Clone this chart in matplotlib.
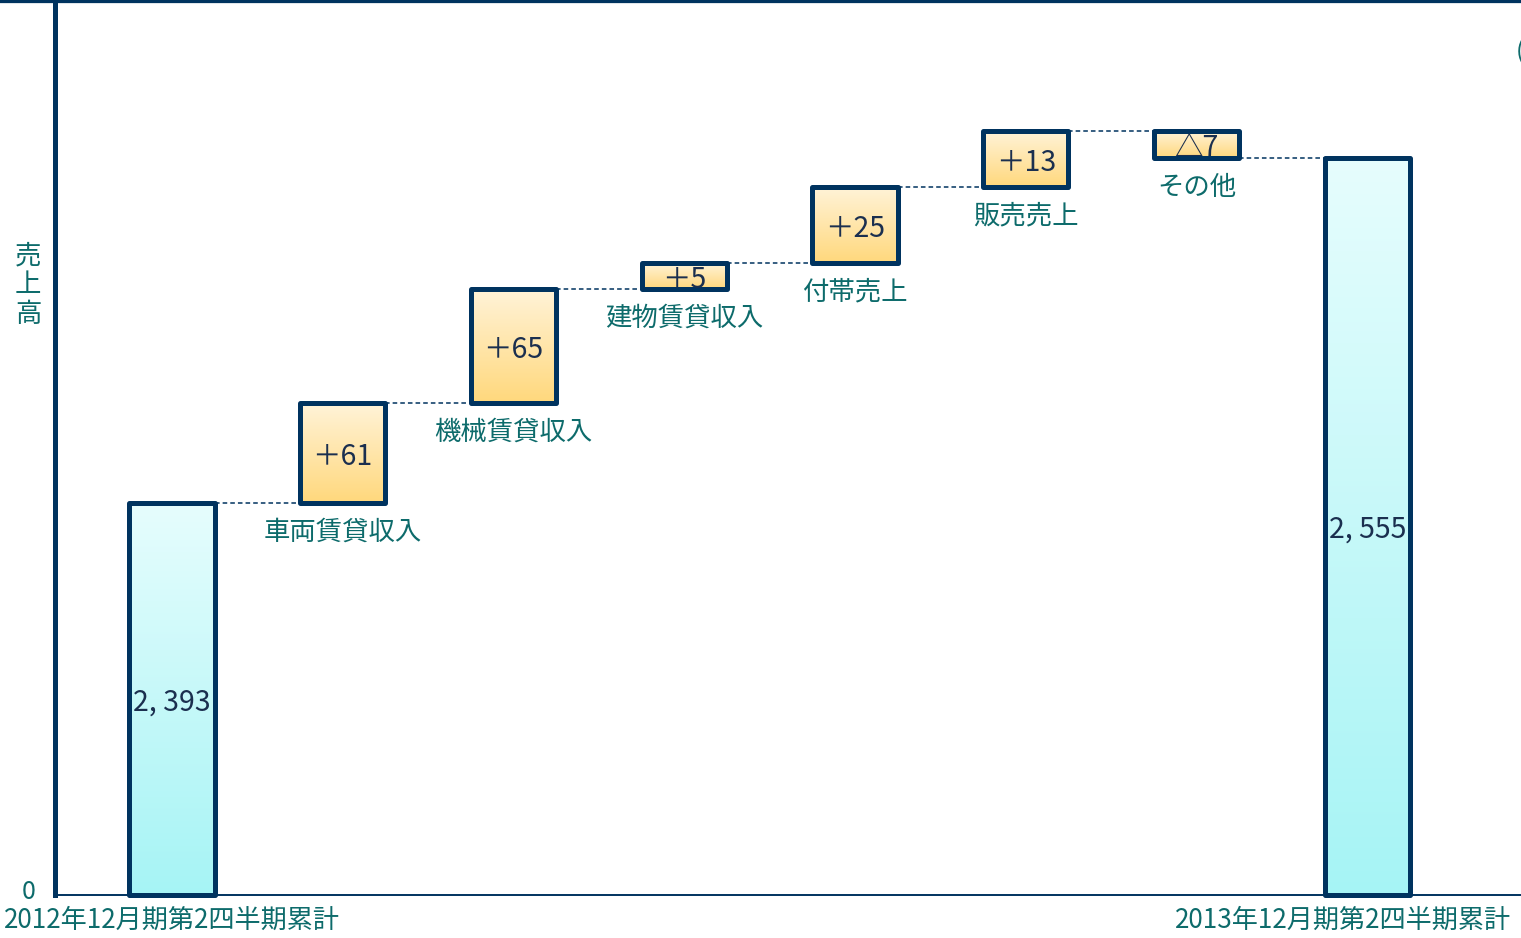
import matplotlib
matplotlib.use("Agg")
import matplotlib.pyplot as plt
from matplotlib.lines import Line2D
from matplotlib.transforms import ScaledTranslation
import numpy as np

plt.rcParams['font.family'] = ['Noto Sans CJK JP', 'DejaVu Sans']

# data (百万円)
start_label = '2012年12月期第2四半期累計'
end_label = '2013年12月期第2四半期累計'
start_value = 2393
end_value = 2555
step_names = ['車両賃貸収入', '機械賃貸収入', '建物賃貸収入', '付帯売上', '販売売上', 'その他']
step_values = [61, 65, 5, 25, 13, -7]

NAVY = '#00335f'
TEAL = '#0d6b6b'
VAL_TXT = '#1b2f4f'

# cumulative levels
levels = start_value + np.concatenate([[0], np.cumsum(step_values)])

# the original chart is not to scale: piecewise axis (value -> pixel height)
knot_vals = np.array([0, 2393, 2454, 2519, 2524, 2549, 2555, 2562, 2600], float)
knot_px = np.array([0, 392, 492, 606, 632, 708, 737, 764, 895], float)


def fwd(v):
    return np.interp(v, knot_vals, knot_px)


def inv(p):
    return np.interp(p, knot_px, knot_vals)


fig = plt.figure(figsize=(15.21, 9.38), dpi=100)
ax = fig.add_axes([55 / 1521, 43 / 938, 1 - 55 / 1521, 895 / 938])
ax.set_yscale('function', functions=(fwd, inv))
ax.set_ylim(0, 2600)
ax.set_xlim(-0.685, 7.9)

n = len(step_values)
xs = np.arange(n + 2)
w = 0.5

bottoms = [0]
heights = [start_value]
kinds = ['total']
for i, d in enumerate(step_values):
    lo, hi = sorted([levels[i], levels[i + 1]])
    bottoms.append(lo)
    heights.append(hi - lo)
    kinds.append('step')
bottoms.append(0)
heights.append(end_value)
kinds.append('total')

grad = np.linspace(0, 1, 256).reshape(-1, 1)
cmap_total = matplotlib.colors.LinearSegmentedColormap.from_list('t', ['#a6f4f5', '#e6fdfd'])
cmap_step = matplotlib.colors.LinearSegmentedColormap.from_list('s', ['#ffd87c', '#fff3d8'])

bars = ax.bar(xs, heights, bottom=bottoms, width=w, facecolor='none',
              edgecolor=NAVY, linewidth=3.6, zorder=4, clip_on=False)
to_ax = ax.transAxes.inverted()
for b, x, lo, h, k in zip(bars, xs, bottoms, heights, kinds):
    b.set_joinstyle('round')
    (x0, y0), (x1, y1) = to_ax.transform(ax.transData.transform([[x - w / 2, lo], [x + w / 2, lo + h]]))
    im = ax.imshow(grad, cmap=cmap_total if k == 'total' else cmap_step, origin='lower',
                   extent=[x0, x1, y0, y1], transform=ax.transAxes, aspect='auto', zorder=3)
    im.set_clip_path(b)

# connectors
for i in range(n + 1):
    ax.plot([xs[i] + w / 2, xs[i + 1] - w / 2], [levels[i]] * 2,
            ls=(0, (3, 2)), lw=1.1, color=NAVY, zorder=2)

# value labels
for i, (x, lo, h, k) in enumerate(zip(xs, bottoms, heights, kinds)):
    if k == 'total':
        txt = f'{int(h):,}'.replace(',', ', ')
    else:
        d = step_values[i - 1]
        txt = f'＋{d}' if d > 0 else f'△{-d}'
    ymid = inv((fwd(lo) + fwd(lo + h)) / 2)
    ax.text(x, ymid, txt, ha='center', va='center_baseline', fontsize=20.5, color=VAL_TXT, zorder=5)

# category labels
for i, name in enumerate(step_names):
    ax.annotate(name, (xs[i + 1], bottoms[i + 1]), xytext=(0, -21), textcoords='offset points',
                ha='center', va='center', fontsize=19, color=TEAL)

# axes styling
for s in ['top', 'right']:
    ax.spines[s].set_visible(False)
ax.spines['left'].set_linewidth(3.6)
ax.spines['left'].set_color(NAVY)
ax.spines['bottom'].set_linewidth(1.4)
ax.spines['bottom'].set_color(NAVY)
ax.set_xticks([])
ax.set_yticks([0])
ax.set_yticklabels(['0'], fontsize=18, color=TEAL)
ax.tick_params(axis='y', length=0, pad=14)
for lab in ax.get_yticklabels():
    lab.set_transform(lab.get_transform() + ScaledTranslation(0, 0.06, fig.dpi_scale_trans))

ax.annotate(start_label, (xs[0], 0), xytext=(0, -18), textcoords='offset points',
            ha='center', va='center', fontsize=18.8, color=TEAL, annotation_clip=False)
fig.text(1511 / 1521, 1 - 920 / 938, end_label, ha='right', va='center', fontsize=18.8, color=TEAL)

fig.text(28 / 1521, 1 - 285 / 938, '売\n上\n高', ha='center', va='center', fontsize=19,
         color=TEAL, linespacing=1.1)
fig.text(1516 / 1521, 1 - 52 / 938, '(百万円)', ha='left', va='center', fontsize=18, color=TEAL)

fig.add_artist(Line2D([0, 1], [1, 1], transform=fig.transFigure, color=NAVY, lw=4.5))

fig.savefig('out.png', dpi=100)
